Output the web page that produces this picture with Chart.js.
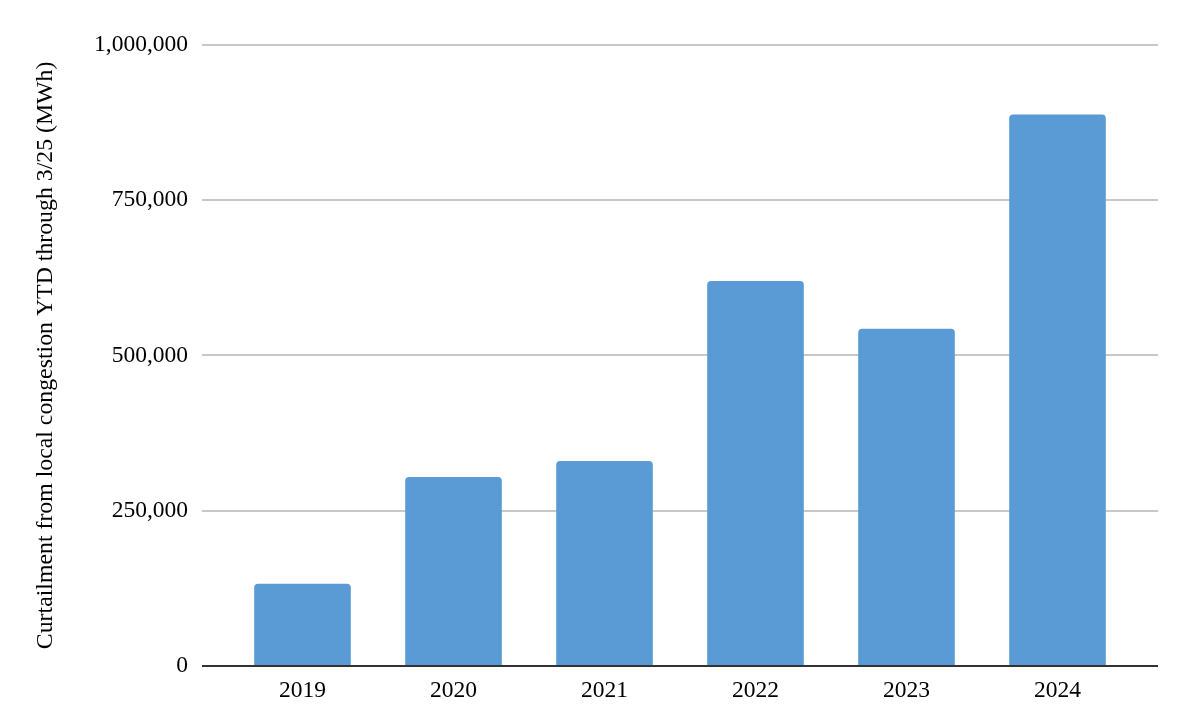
<!DOCTYPE html>
<html>
<head>
<meta charset="utf-8">
<script src="https://cdn.jsdelivr.net/npm/chart.js@4"></script>
<style>
  html, body { margin: 0; padding: 0; background: #fff; }
  #wrap { width: 1182px; height: 716px; }
</style>
</head>
<body>
<div id="wrap"><canvas id="curtailChart"></canvas></div>
<script>
const years = ['2019', '2020', '2021', '2022', '2023', '2024'];
const curtailment = [132000, 304000, 330000, 620000, 543000, 888000]; // MWh
const yTicks = [0, 250000, 500000, 750000, 1000000];

const font = 'Liberation Serif, Times New Roman, serif';
const gridOverhang = 25; // gridlines run a bit past the first/last bar slot

// gridlines + baseline, stretched past the category area like the original
const gridPlugin = {
    id: 'wideGrid',
    beforeDatasetsDraw(chart) {
        const { ctx, chartArea, scales } = chart;
        const x0 = chartArea.left - gridOverhang;
        const x1 = chartArea.right + gridOverhang;
        ctx.save();
        ctx.strokeStyle = '#c8c8c8';
        ctx.lineWidth = 2;
        yTicks.slice(1).forEach(v => {
            const y = Math.round(scales.y.getPixelForValue(v));
            ctx.beginPath();
            ctx.moveTo(x0, y);
            ctx.lineTo(x1, y);
            ctx.stroke();
        });
        ctx.restore();
    },
    afterDatasetsDraw(chart) {
        const { ctx, chartArea, scales } = chart;
        const y = Math.round(scales.y.getPixelForValue(0));
        ctx.save();
        ctx.strokeStyle = '#333333';
        ctx.lineWidth = 2;
        ctx.beginPath();
        ctx.moveTo(chartArea.left - gridOverhang, y);
        ctx.lineTo(chartArea.right + gridOverhang, y);
        ctx.stroke();
        ctx.restore();
    }
};

const data = {
    labels: years,
    datasets: [{
        label: 'Curtailment',
        data: curtailment,
        backgroundColor: '#5B9BD5',
        borderRadius: 4,
        borderSkipped: 'start',
        barPercentage: 0.64,
        categoryPercentage: 1.0
    }]
};

const config = {
    type: 'bar',
    data: data,
    plugins: [gridPlugin],
    options: {
        responsive: true,
        maintainAspectRatio: false,
        animation: false,
        layout: {
            padding: { top: 45, right: 49, bottom: 0, left: 31 }
        },
        plugins: {
            legend: { display: false },
            tooltip: { enabled: false }
        },
        scales: {
            x: {
                grid: { display: false, drawTicks: false },
                border: { display: false },
                ticks: {
                    color: '#000',
                    padding: 11,
                    font: { family: font, size: 23.5 }
                }
            },
            y: {
                min: 0,
                max: 1000000,
                afterBuildTicks: axis => {
                    axis.ticks = yTicks.map(v => ({ value: v }));
                },
                afterFit: axis => { axis.width = 196; },
                grid: { display: false, drawTicks: false },
                border: { display: false },
                ticks: {
                    color: '#000',
                    padding: 39,
                    // small lineHeight keeps the label padding from pushing the plot down
                    font: { family: font, size: 23.5, lineHeight: 0.2 },
                    callback: v => v.toLocaleString('en-US')
                },
                title: {
                    display: true,
                    text: 'Curtailment from local congestion YTD through 3/25 (MWh)',
                    color: '#000',
                    padding: 0,
                    font: { family: font, size: 23.8 }
                }
            }
        }
    }
};

window.onload = function() {
    const ctx = document.getElementById('curtailChart').getContext('2d');
    new Chart(ctx, config);
};
</script>
</body>
</html>
